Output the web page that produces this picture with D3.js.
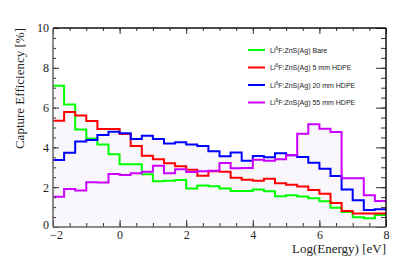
<!DOCTYPE html>
<html>
<head>
<meta charset="utf-8">
<script src="https://cdn.jsdelivr.net/npm/d3@7"></script>
<style>
  body { margin: 0; background: #fff; }
  svg { display: block; }
</style>
</head>
<body>
<div id="chart"></div>
<script>
// histogram binning: 30 bins from -2 to 8 in log(energy)
const xMin = -2, xMax = 8, nBins = 30;

const bare = [7.1, 6.15, 4.9, 4.45, 4.15, 3.65, 3.15, 3.15, 2.65, 2.3,
  2.32, 2.36, 1.94, 2.08, 2.05, 1.94, 1.81, 1.81, 1.89, 1.8,
  1.55, 1.6, 1.53, 1.45, 1.3, 0.97, 0.75, 0.49, 0.44, 0.6];
const hdpe5 = [5.34, 5.78, 5.6, 5.33, 4.92, 4.92, 4.67, 4.07, 3.58, 3.4,
  3.2, 3.05, 2.88, 2.57, 2.8, 2.78, 2.47, 2.38, 2.32, 2.42,
  2.2, 2.12, 2.03, 1.86, 1.67, 1.2, 0.8, 0.68, 0.68, 0.68];
const hdpe20 = [3.37, 3.73, 4.3, 4.37, 4.62, 4.79, 4.71, 4.42, 4.59, 4.42,
  4.2, 4.26, 4.14, 4.07, 3.81, 3.55, 3.74, 3.33, 3.57, 3.5,
  3.7, 3.6, 3.52, 3.23, 2.93, 2.56, 1.88, 1.35, 0.85, 0.89];
const hdpe55 = [1.52, 1.91, 1.83, 2.25, 2.23, 2.66, 2.61, 2.7, 2.78, 3.08,
  2.7, 2.9, 2.77, 2.8, 2.83, 3.22, 2.95, 2.96, 3.38, 3.33,
  3.4, 3.6, 4.68, 5.16, 4.94, 4.77, 2.45, 2.45, 1.6, 1.31];

const seriesNames = ["Bare", "5 mm HDPE", "20 mm HDPE", "55 mm HDPE"];
const seriesColors = ["#00ff00", "#ff0000", "#0000ff", "#cc00ff"];
const seriesData = [bare, hdpe5, hdpe20, hdpe55];

const xTicks = [-2, 0, 2, 4, 6, 8];
const yTicks = [0, 2, 4, 6, 8, 10];

const W = 407, H = 277;
const margin = { top: 28, right: 21, bottom: 50, left: 53 };
const width = W - margin.left - margin.right;
const height = H - margin.top - margin.bottom;

const svg = d3.select("#chart").append("svg")
  .attr("width", W)
  .attr("height", H);

const g = svg.append("g")
  .attr("transform", "translate(" + margin.left + "," + margin.top + ")");

const x = d3.scaleLinear().domain([xMin, xMax]).range([0, width]);
const y = d3.scaleLinear().domain([0, 10]).range([height, 0]);

const binW = (xMax - xMin) / nBins;

function stepPoints(vals) {
  let pts = [];
  vals.forEach((v, i) => {
    pts.push([xMin + i * binW, v]);
    pts.push([xMin + (i + 1) * binW, v]);
  });
  return pts;
}

const area = d3.area()
  .x(d => x(d[0]))
  .y0(y(0))
  .y1(d => y(d[1]));

const line = d3.line()
  .x(d => x(d[0]))
  .y(d => y(d[1]));

// light fills under the histograms
seriesData.forEach(vals => {
  g.append("path")
    .attr("d", area(stepPoints(vals)))
    .attr("fill", "#f9f7fb");
});

seriesData.forEach((vals, k) => {
  g.append("path")
    .attr("d", line(stepPoints(vals)))
    .attr("fill", "none")
    .attr("stroke", seriesColors[k])
    .attr("stroke-width", 2);
});

// axes, ticks inside the frame
const xMinor = d3.range(xMin, xMax + 0.01, 0.5);
const yMinor = d3.range(0, 10.01, 0.5);

g.append("g")
  .attr("transform", "translate(0," + height + ")")
  .call(d3.axisBottom(x).tickValues(xMinor).tickSize(-4).tickFormat(""))
  .call(a => a.select(".domain").remove());
g.append("g")
  .attr("transform", "translate(0," + height + ")")
  .call(d3.axisBottom(x).tickValues(xTicks).tickSize(-7).tickPadding(3)
    .tickFormat(d => d < 0 ? "\u2212" + (-d) : d))
  .call(a => a.select(".domain").remove())
  .call(a => a.selectAll(".tick text").filter(d => d === xMin).attr("dx", 3));

g.append("g")
  .call(d3.axisTop(x).tickValues(xMinor).tickSize(-3).tickFormat(""))
  .call(a => a.select(".domain").remove());
g.append("g")
  .call(d3.axisTop(x).tickValues(xTicks).tickSize(-6).tickFormat(""))
  .call(a => a.select(".domain").remove());

g.append("g")
  .call(d3.axisLeft(y).tickValues(yMinor).tickSize(-3).tickFormat(""))
  .call(a => a.select(".domain").remove());
g.append("g")
  .call(d3.axisLeft(y).tickValues(yTicks).tickSize(-6).tickPadding(4))
  .call(a => a.select(".domain").remove())
  .call(a => a.selectAll(".tick text").filter(d => d === 0).attr("dy", "0.1em"));

g.append("g")
  .attr("transform", "translate(" + width + ",0)")
  .call(d3.axisRight(y).tickValues(yMinor).tickSize(-5).tickFormat(""))
  .call(a => a.select(".domain").remove());
g.append("g")
  .attr("transform", "translate(" + width + ",0)")
  .call(d3.axisRight(y).tickValues(yTicks).tickSize(-10).tickFormat(""))
  .call(a => a.select(".domain").remove());

g.selectAll(".tick line").attr("stroke", "#333");
g.selectAll(".tick text")
  .attr("font-family", "Liberation Serif, serif")
  .attr("font-size", 12)
  .attr("fill", "#222");

// frame
g.append("line").attr("x1", 0).attr("x2", width).attr("y1", 0).attr("y2", 0)
  .attr("stroke", "#111").attr("stroke-width", 1.5);
g.append("line").attr("x1", width).attr("x2", width).attr("y1", 0).attr("y2", height)
  .attr("stroke", "#111").attr("stroke-width", 1.5);
g.append("line").attr("x1", 0).attr("x2", width).attr("y1", height).attr("y2", height)
  .attr("stroke", "#666").attr("stroke-width", 1.5);
g.append("line").attr("x1", 0).attr("x2", 0).attr("y1", 0).attr("y2", height)
  .attr("stroke", "#666").attr("stroke-width", 1.5);

// axis titles
svg.append("text")
  .attr("x", margin.left + width)
  .attr("y", 253)
  .attr("text-anchor", "end")
  .attr("font-family", "Liberation Serif, serif")
  .attr("font-size", 13)
  .attr("fill", "#222")
  .text("Log(Energy) [eV]");

svg.append("text")
  .attr("transform", "translate(24,28) rotate(-90)")
  .attr("text-anchor", "end")
  .attr("font-family", "Liberation Serif, serif")
  .attr("font-size", 13)
  .attr("fill", "#222")
  .text("Capture Efficiency [%]");

// legend
const legend = svg.append("g").attr("transform", "translate(248,50)");
seriesNames.forEach((name, k) => {
  const row = legend.append("g").attr("transform", "translate(0," + (k * 17.5) + ")");
  row.append("line")
    .attr("x1", 0).attr("x2", 17)
    .attr("stroke", seriesColors[k]).attr("stroke-width", 2);
  const t = row.append("text")
    .attr("x", 22).attr("y", 2.5)
    .attr("font-family", "Liberation Sans, Arial, sans-serif")
    .attr("font-size", 7)
    .attr("fill", "#222");
  t.append("tspan").text("Li");
  t.append("tspan").attr("dy", -3).attr("font-size", 5).text("6");
  t.append("tspan").attr("dy", 3).text("F:ZnS(Ag) " + name);
});
</script>
</body>
</html>
